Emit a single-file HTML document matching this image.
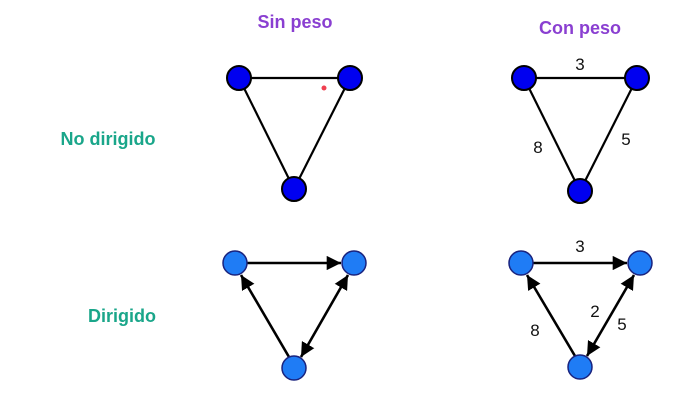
<!DOCTYPE html>
<html><head><meta charset="utf-8"><style>
body{margin:0;background:#fff;width:692px;height:401px;overflow:hidden}
svg{display:block}
.t{font-family:"Liberation Sans",sans-serif;font-weight:bold;font-size:18px}
.w{font-family:"Liberation Sans",sans-serif;font-size:17px;fill:#111}
</style></head><body>
<svg width="692" height="401">
<defs>
<marker id="ah" viewBox="0 0 10 10" refX="10" refY="5" markerWidth="5.5" markerHeight="5.5" orient="auto-start-reverse"><path d="M0,0L10,5L0,10z" fill="#000"/></marker>
</defs>
<text class="t" x="295" y="28" text-anchor="middle" fill="#8a3fd1">Sin peso</text>
<text class="t" x="580" y="34" text-anchor="middle" fill="#8a3fd1">Con peso</text>
<text class="t" x="108" y="145" text-anchor="middle" fill="#1aa68a">No dirigido</text>
<text class="t" x="122" y="322" text-anchor="middle" fill="#1aa68a">Dirigido</text>

<g stroke="#000" stroke-width="2.2">
<line x1="239" y1="78" x2="350" y2="78"/><line x1="239" y1="78" x2="294" y2="189"/><line x1="350" y1="78" x2="294" y2="189"/>
<g fill="#0000f0" stroke-width="2"><circle cx="239" cy="78" r="12"/><circle cx="350" cy="78" r="12"/><circle cx="294" cy="189" r="12"/></g>
</g>
<circle cx="324" cy="88" r="2.5" fill="#f04050"/>

<g stroke="#000" stroke-width="2.2">
<line x1="524" y1="78" x2="637" y2="78"/><line x1="524" y1="78" x2="580" y2="191"/><line x1="637" y1="78" x2="580" y2="191"/>
<g fill="#0000f0" stroke-width="2"><circle cx="524" cy="78" r="12"/><circle cx="637" cy="78" r="12"/><circle cx="580" cy="191" r="12"/></g>
</g>
<text class="w" x="580" y="70" text-anchor="middle">3</text>
<text class="w" x="538" y="153" text-anchor="middle">8</text>
<text class="w" x="626" y="145" text-anchor="middle">5</text>

<g stroke="#000" stroke-width="2.6">
<line x1="247" y1="263" x2="341" y2="263" marker-end="url(#ah)"/>
<line x1="289" y1="357" x2="241" y2="275" marker-end="url(#ah)"/>
<line x1="348" y1="275" x2="301" y2="357" marker-end="url(#ah)" marker-start="url(#ah)"/>
<g fill="#1f7cf5" stroke="#1a237e" stroke-width="1.5"><circle cx="235" cy="263" r="12"/><circle cx="354" cy="263" r="12"/><circle cx="294" cy="368" r="12"/></g>
</g>

<g stroke="#000" stroke-width="2.6">
<line x1="533" y1="263" x2="627" y2="263" marker-end="url(#ah)"/>
<line x1="575" y1="356" x2="527" y2="275" marker-end="url(#ah)"/>
<line x1="634" y1="275" x2="587" y2="356" marker-end="url(#ah)" marker-start="url(#ah)"/>
<g fill="#1f7cf5" stroke="#1a237e" stroke-width="1.5"><circle cx="521" cy="263" r="12"/><circle cx="640" cy="263" r="12"/><circle cx="580" cy="367" r="12"/></g>
</g>
<text class="w" x="580" y="252" text-anchor="middle">3</text>
<text class="w" x="535" y="336" text-anchor="middle">8</text>
<text class="w" x="595" y="317" text-anchor="middle">2</text>
<text class="w" x="622" y="330" text-anchor="middle">5</text>
</svg>
</body></html>
